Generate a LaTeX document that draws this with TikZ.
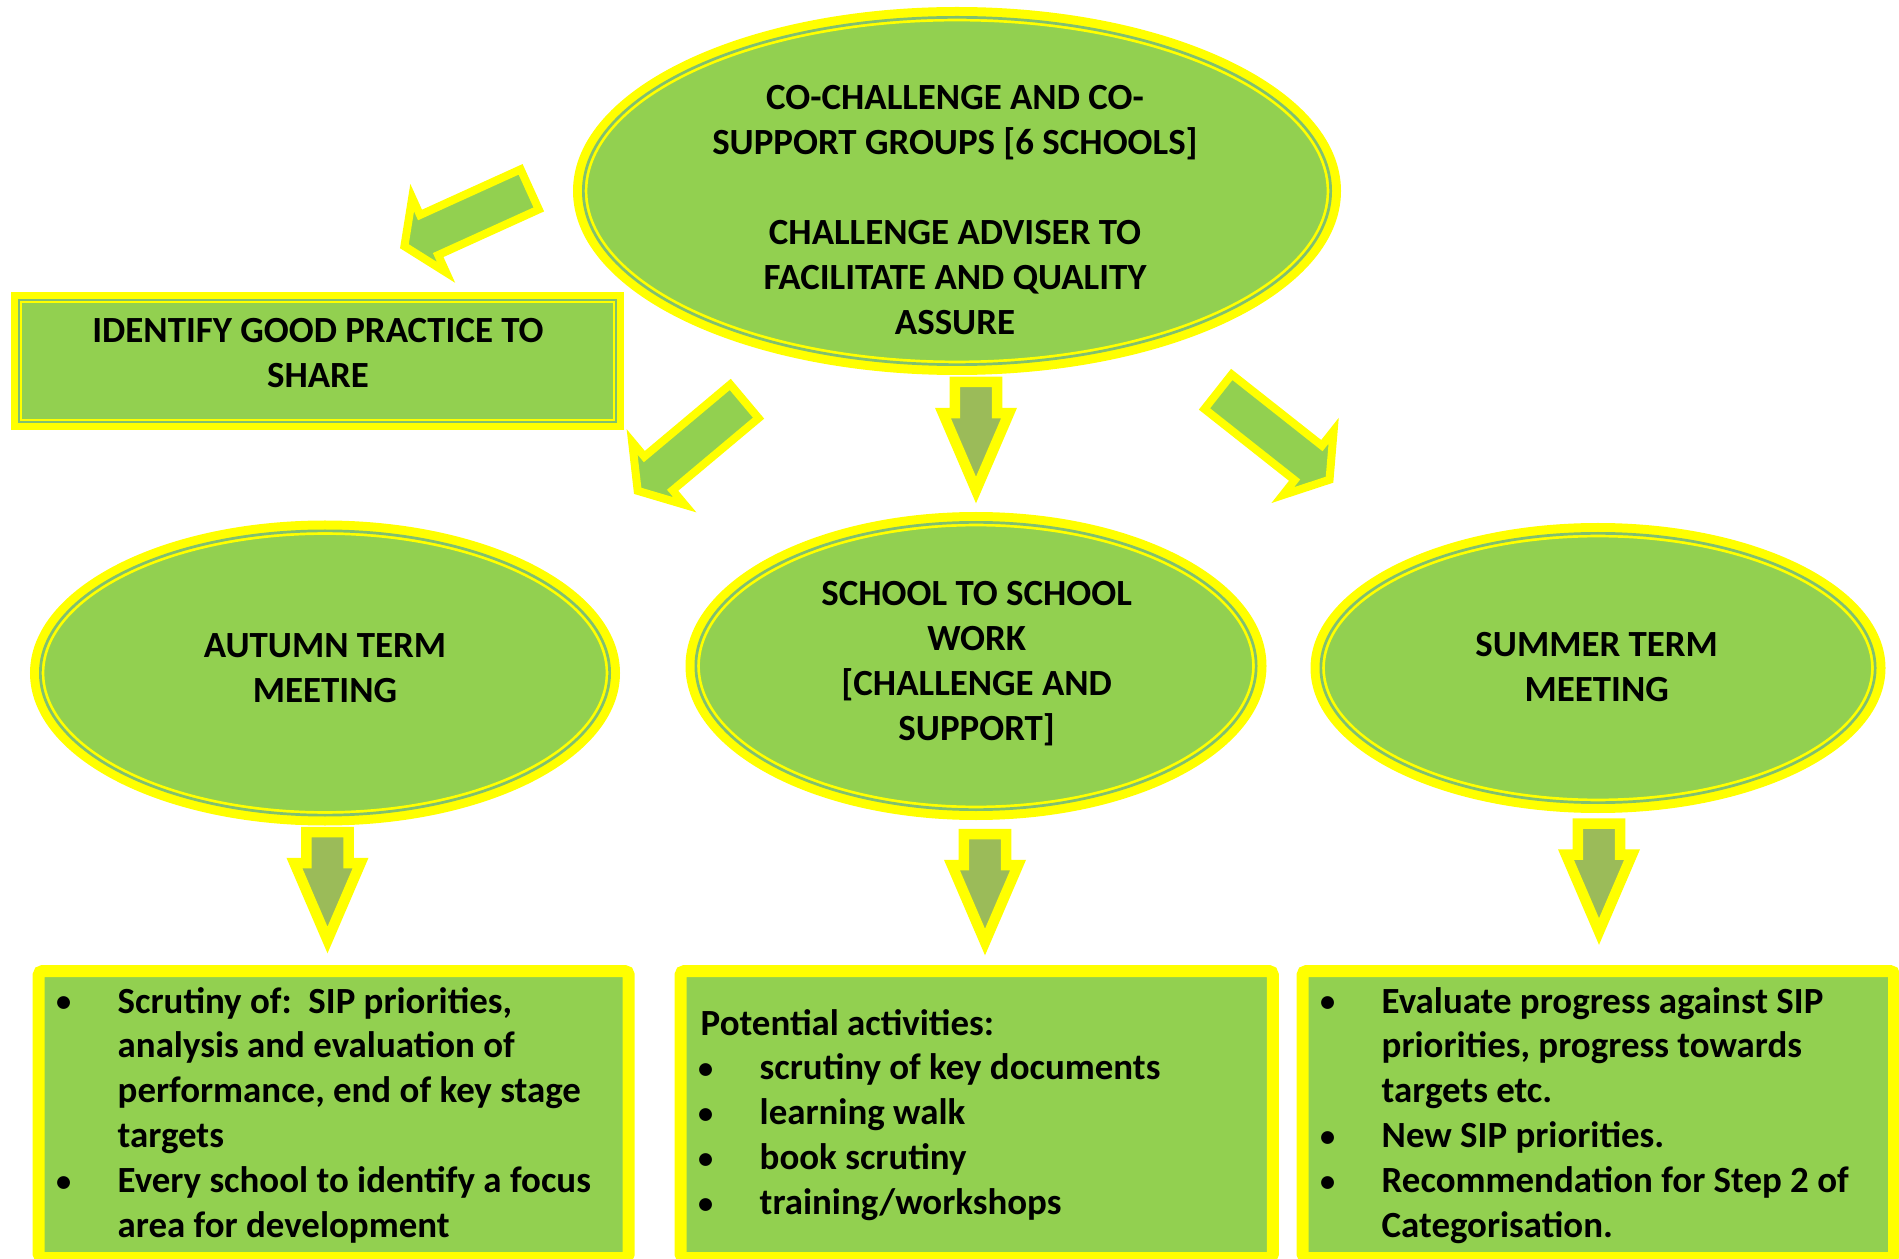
\documentclass[tikz,border=0pt]{standalone}
\usepackage{fontspec}
\setmainfont{Carlito}
\usetikzlibrary{shapes.geometric,shapes.arrows}

\definecolor{rimyellow}{HTML}{FFFF00}
\definecolor{leafgreen}{HTML}{92D050}
\definecolor{olivegreen}{HTML}{9BBB59}
\definecolor{gapgreen}{HTML}{80C070}

\newcommand\bul{\makebox[0.54cm][l]{\makebox[0pt]{\raisebox{0.4pt}{\scalebox{0.82}{\textbullet}}}}}

\tikzset{
  blob/.style={ellipse, draw=rimyellow, fill=leafgreen, line width=0.09cm, inner sep=0pt, outer sep=0pt},
  blobrim/.style={ellipse, draw=rimyellow, double=gapgreen, line width=0.027cm, double distance=0.027cm, inner sep=0pt, outer sep=0pt},
  sharebox/.style={rectangle, draw=rimyellow, fill=leafgreen, line width=0.07cm, inner sep=0pt, outer sep=0pt},
  sharerim/.style={rectangle, draw=rimyellow, double=gapgreen, line width=0.02cm, double distance=0.02cm, inner sep=0pt, outer sep=0pt},
  listbox/.style={rectangle, draw=rimyellow, fill=leafgreen, line width=0.12cm, rounded corners=0.04cm, inner sep=0pt, outer sep=0pt, minimum height=2.87cm},
  captext/.style={font=\fontsize{10.5}{12.8}\selectfont\bfseries, align=center, inner sep=0pt},
  listtext/.style={font=\fontsize{10.5}{12.8}\selectfont\bfseries, anchor=base west, inner sep=0pt},
  downarrow/.style={single arrow, draw=rimyellow, fill=olivegreen, line width=0.105cm, inner xsep=0pt, inner ysep=0.158cm, outer sep=0pt, minimum height=1.08cm, single arrow head extend=0.12cm, single arrow tip angle=46.5, anchor=tail, rotate=-90},
  slantarrow/.style={single arrow, draw=rimyellow, fill=leafgreen, line width=0.08cm, inner xsep=0pt, inner ysep=0.18cm, outer sep=0pt, single arrow head extend=0.19cm, single arrow tip angle=113, anchor=tail}
}

\begin{document}
\begin{tikzpicture}
  \useasboundingbox (0,0) rectangle (18.99,-12.59);

  \node[blob, minimum width=7.59cm, minimum height=3.59cm] (groups) at (9.57,-1.91) {};
  \node[blobrim, minimum width=7.473cm, minimum height=3.473cm] (groupsRim) at (groups.center) {};
  \node[blob, minimum width=5.81cm, minimum height=2.96cm] (autumn) at (3.25,-6.73) {};
  \node[blobrim, minimum width=5.693cm, minimum height=2.843cm] (autumnRim) at (autumn.center) {};
  \node[blob, minimum width=5.72cm, minimum height=2.99cm] (school) at (9.76,-6.66) {};
  \node[blobrim, minimum width=5.603cm, minimum height=2.873cm] (schoolRim) at (school.center) {};
  \node[blob, minimum width=5.66cm, minimum height=2.81cm] (summer) at (15.98,-6.68) {};
  \node[blobrim, minimum width=5.543cm, minimum height=2.693cm] (summerRim) at (summer.center) {};

  \node[sharebox, minimum width=6.06cm, minimum height=1.31cm] (share) at (3.175,-3.61) {};
  \node[sharerim, minimum width=5.97cm, minimum height=1.22cm] (shareRim) at (share.center) {};

  \node[listbox, minimum width=5.90cm] (autumnList) at (3.337,-11.145) {};
  \node[listbox, minimum width=5.923cm] (schoolList) at (9.767,-11.145) {};
  \node[listbox, minimum width=5.915cm] (summerList) at (15.983,-11.145) {};

  \node[slantarrow, minimum height=1.376cm, rotate=204.4] (toShare) at (5.297,-1.894) {};
  \node[slantarrow, minimum height=1.393cm, rotate=220] (toAutumn) at (7.444,-4.013) {};
  \node[downarrow] (toSchool) at (9.76,-3.82) {};
  \node[slantarrow, minimum height=1.42cm, rotate=-38.3] (toSummer) at (12.181,-3.917) {};
  \node[downarrow] (autumnDown) at (3.275,-8.32) {};
  \node[downarrow] (schoolDown) at (9.85,-8.34) {};
  \node[downarrow] (summerDown) at (15.99,-8.235) {};

  \node[captext] (groupsText) at (9.55,-2.096) {CO-CHALLENGE AND CO-\\SUPPORT GROUPS {[}6 SCHOOLS{]}\\[12.8pt]CHALLENGE ADVISER TO\\FACILITATE AND QUALITY\\ASSURE};
  \node[captext] (shareText) at (3.18,-3.528) {IDENTIFY GOOD PRACTICE TO\\SHARE};
  \node[captext] (autumnText) at (3.25,-6.68) {AUTUMN TERM\\MEETING};
  \node[captext] (schoolText) at (9.767,-6.633) {SCHOOL TO SCHOOL\\WORK\\{[}CHALLENGE AND\\SUPPORT{]}};
  \node[captext] (summerText) at (15.967,-6.667) {SUMMER TERM\\MEETING};

  \node[listtext] (autumnItems) at (0.63,-10.13) {\begin{tabular}[t]{@{}l@{}l@{}}
    \bul & Scrutiny of:~~SIP priorities,\\
         & analysis and evaluation of\\
         & performance, end of key stage\\
         & targets\\
    \bul & Every school to identify a focus\\
         & area for development
  \end{tabular}};
  \node[listtext] (schoolItems) at (7.05,-10.35) {\begin{tabular}[t]{@{}l@{}l@{}}
    \multicolumn{2}{@{}l@{}}{\hspace*{-0.05cm}Potential activities:}\\
    \bul & scrutiny of key documents\\
    \bul & learning walk\\
    \bul & book scrutiny\\
    \bul & training/workshops
  \end{tabular}};
  \node[listtext] (summerItems) at (13.27,-10.13) {\begin{tabular}[t]{@{}l@{}l@{}}
    \bul & Evaluate progress against SIP\\
         & priorities, progress towards\\
         & targets etc.\\
    \bul & New SIP priorities.\\
    \bul & Recommendation for Step 2 of\\
         & Categorisation.
  \end{tabular}};
\end{tikzpicture}
\end{document}
